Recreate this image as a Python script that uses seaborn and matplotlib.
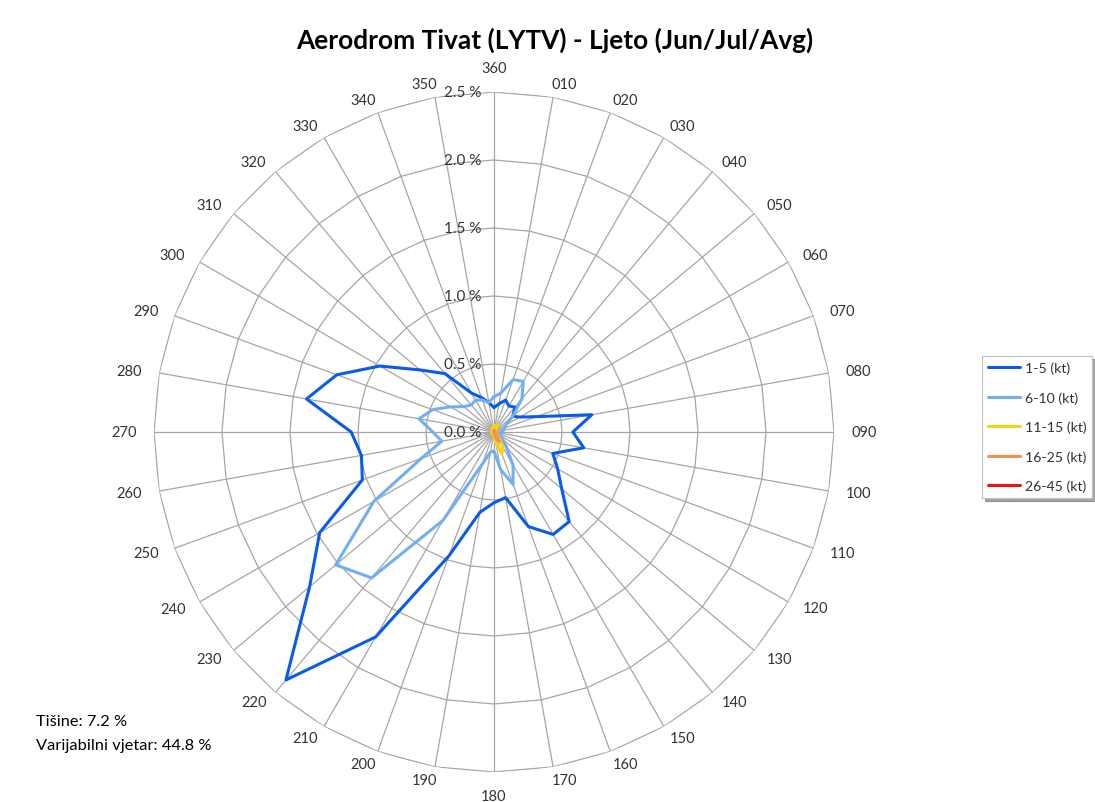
import numpy as np
import pandas as pd
import matplotlib
matplotlib.use("Agg")
import matplotlib.pyplot as plt
import matplotlib.transforms as mtransforms
import matplotlib.patheffects as pe
import seaborn as sns

# ---------------- data ----------------
directions = ["360", "010", "020", "030", "040", "050", "060", "070", "080",
              "090", "100", "110", "120", "130", "140", "150", "160", "170",
              "180", "190", "200", "210", "220", "230", "240", "250", "260",
              "270", "280", "290", "300", "310", "320", "330", "340", "350"]
dir_deg = [0, 10, 20, 30, 40, 50, 60, 70, 80, 90, 100, 110, 120, 130, 140, 150,
           160, 170, 180, 190, 200, 210, 220, 230, 240, 250, 260, 270, 280, 290,
           300, 310, 320, 330, 340, 350]

s_1_5 = [0.18, 0.21, 0.25, 0.22, 0.24, 0.18, 0.22, 0.33, 0.73, 0.58, 0.67, 0.46,
         0.54, 0.65, 0.86, 0.87, 0.74, 0.49, 0.52, 0.60, 0.97, 1.74, 2.38, 1.77,
         1.48, 1.03, 0.99, 1.05, 1.40, 1.23, 0.97, 0.71, 0.56, 0.33, 0.27, 0.22]
s_6_10 = [0.26, 0.29, 0.41, 0.43, 0.32, 0.18, 0.10, 0.08, 0.07, 0.06, 0.05, 0.05,
          0.06, 0.08, 0.14, 0.28, 0.41, 0.28, 0.14, 0.15, 0.25, 0.75, 1.40, 1.52,
          1.02, 0.57, 0.39, 0.45, 0.56, 0.48, 0.37, 0.29, 0.26, 0.27, 0.25, 0.22]
s_11_15 = [0.04, 0.05, 0.05, 0.06, 0.03, 0.02, 0.01, 0.01, 0.01, 0.01, 0.01, 0.01,
           0.02, 0.03, 0.07, 0.13, 0.17, 0.09, 0.03, 0.02, 0.02, 0.02, 0.02, 0.02,
           0.02, 0.02, 0.02, 0.02, 0.02, 0.02, 0.02, 0.02, 0.02, 0.03, 0.03, 0.04]
s_16_25 = [0.01, 0.01, 0.01, 0.01, 0.01, 0.0, 0.0, 0.0, 0.0, 0.0, 0.0, 0.0,
           0.01, 0.02, 0.04, 0.08, 0.06, 0.02, 0.01, 0.0, 0.0, 0.0, 0.0, 0.0,
           0.0, 0.0, 0.0, 0.0, 0.0, 0.0, 0.0, 0.0, 0.0, 0.0, 0.0, 0.01]
s_26_45 = [0.0] * 36

series_names = ["1-5 (kt)", "6-10 (kt)", "11-15 (kt)", "16-25 (kt)", "26-45 (kt)"]
series_colors = ["#0A5CE8", "#72AEF2", "#F2D410", "#F5924A", "#F01010"]
radial_ticks = [0.0, 0.5, 1.0, 1.5, 2.0, 2.5]
radial_labels = ["0.0 %", "0.5 %", "1.0 %", "1.5 %", "2.0 %", "2.5 %"]
title = "Aerodrom Tivat (LYTV) - Ljeto (Jun/Jul/Avg)"
note_lines = ["Tišine: 7.2 %", "Varijabilni vjetar: 44.8 %"]

# ---------------- build long table ----------------
rows = []
for name, vals in zip(series_names, [s_1_5, s_6_10, s_11_15, s_16_25, s_26_45]):
    th = list(np.deg2rad(dir_deg)) + [2 * np.pi]
    vv = list(vals) + [vals[0]]
    for t, v in zip(th, vv):
        rows.append({"theta": t, "value": v, "series": name})
df = pd.DataFrame(rows)

# ---------------- figure ----------------
sns.set_theme(style="white")
plt.rcParams["font.family"] = ["Lato", "DejaVu Sans"]

W, H = 1095, 803
fig = plt.figure(figsize=(W / 100, H / 100), dpi=100)
cx, cy, R = 494, 433, 340
ax = fig.add_axes([(cx - R) / W, (H - cy - R) / H, 2 * R / W, 2 * R / H],
                  projection="polar")
ax.set_theta_zero_location("N")
ax.set_theta_direction(-1)
ax.grid(False)
ax.spines["polar"].set_visible(False)
ax.set_facecolor("white")

# polygon gridlines (radar style)
grid_th = np.deg2rad(dir_deg + [360])
for rt in radial_ticks[1:]:
    ax.plot(grid_th, [rt] * len(grid_th), color="#A6A6A6", lw=0.9, zorder=1)
for d in dir_deg:
    ax.plot([np.deg2rad(d), np.deg2rad(d)], [0, radial_ticks[-1]],
            color="#A6A6A6", lw=0.9, zorder=1)

sns.lineplot(data=df, x="theta", y="value", hue="series",
             hue_order=series_names, palette=series_colors,
             sort=False, estimator=None, linewidth=2.2, ax=ax, zorder=3)
for ln in ax.get_lines()[-5:]:
    ln.set_path_effects([pe.SimpleLineShadow(offset=(1.2, -1.2), alpha=0.25,
                                             shadow_color="#555555"),
                         pe.Normal()])

ax.set_ylim(0, radial_ticks[-1])
ax.set_xticks([])
ax.set_yticks([])
ax.set_xlabel("")
ax.set_ylabel("")

# direction labels (placed in pixel offsets from the centre, Excel-like)
for d, lab in zip(dir_deg, directions):
    s, c = np.sin(np.deg2rad(d)), np.cos(np.deg2rad(d))
    sx = 0 if abs(s) < 0.01 else np.sign(s)
    if abs(s) < 0.01:
        rx, ry = 363, 364
    else:
        rx, ry = 363, 353
    px = rx * s + 7 * sx
    py = ry * c
    tr = ax.transAxes + mtransforms.ScaledTranslation(px / 100, py / 100,
                                                      fig.dpi_scale_trans)
    ax.text(0.5, 0.5, lab, transform=tr, ha="center", va="center",
            fontsize=10.5, color="#333333")

# radial labels
off = mtransforms.ScaledTranslation(-13 / 100, 0, fig.dpi_scale_trans)
for rt, lab in zip(radial_ticks, radial_labels):
    ax.text(0, rt, lab, transform=ax.transData + off, ha="right",
            va="center", fontsize=11, color="#333333", zorder=5)

# legend
handles, labels = ax.get_legend_handles_labels()
if ax.get_legend() is not None:
    ax.get_legend().remove()
for h in handles:
    h.set_path_effects([pe.Normal()])
leg = fig.legend(handles, labels, loc="upper right",
                 bbox_to_anchor=(1092 / W, 1 - 357 / H), borderaxespad=0,
                 fontsize=10.2, frameon=True, fancybox=False, shadow=True,
                 labelspacing=1.2, handlelength=2.3, handletextpad=0.3,
                 borderpad=0.4)
leg.get_frame().set_edgecolor("#BFBFBF")
leg.get_frame().set_linewidth(0.8)
for t in leg.get_texts():
    t.set_color("#333333")

fig.text(555 / W, 1 - 40 / H, title, ha="center", va="center",
         fontsize=18.9, fontweight="bold", color="black")
fig.text(36 / W, 1 - 722 / H, note_lines[0], ha="left", va="center",
         fontsize=11.8, color="black")
fig.text(36 / W, 1 - 746 / H, note_lines[1], ha="left", va="center",
         fontsize=11.8, color="black")

fig.savefig("out.png", dpi=100, facecolor="white")
